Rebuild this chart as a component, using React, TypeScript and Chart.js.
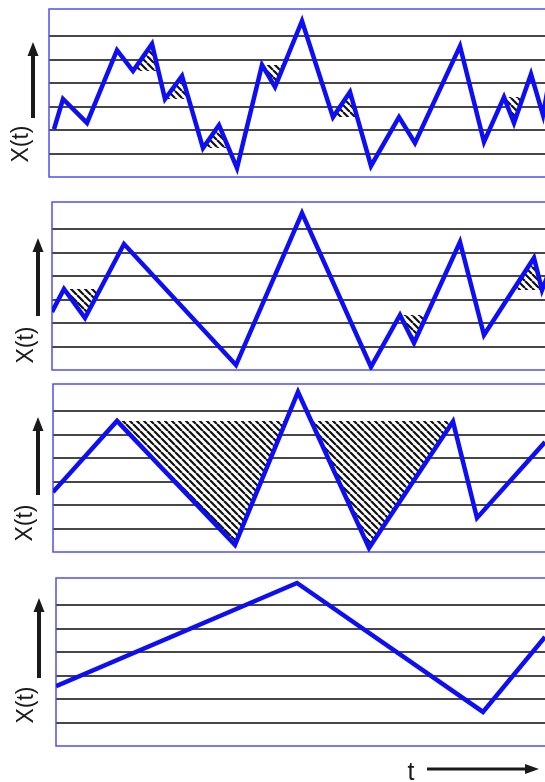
import React, { useEffect, useRef } from "react";
import { Chart, registerables } from "chart.js";

Chart.register(...registerables);

// ---------- data (time t, level X(t)) ----------
const TIME_P1 = [54, 63, 87, 117, 133, 152, 165, 182, 203, 219, 237, 262, 275, 302, 333, 350, 371, 399, 415, 460, 484, 504, 514, 531, 543, 553];
const VALUE_P1 = [2.04, 3.32, 2.3, 5.4, 4.51, 5.66, 3.32, 4.3, 1.23, 2.21, 0.38, 4.77, 3.83, 6.64, 2.55, 3.62, 0.47, 2.55, 1.45, 5.57, 1.49, 3.4, 2.3, 4.38, 2.64, 5.0];
// [t left, t apex, t right, cut level, apex value]
const HATCH_P1 = [
  [133, 152, 158, 4.51, 5.66],
  [165, 182, 189, 3.32, 4.3],
  [203, 219, 229, 1.23, 2.21],
  [262, 275, 284, 4.77, 3.83],
  [333, 350, 357, 2.55, 3.62],
  [504, 514, 523, 3.4, 2.3],
];

const TIME_P2 = [52, 64, 85, 124, 236, 302, 371, 400, 414, 460, 484, 534, 542, 553];
const VALUE_P2 = [2.47, 3.45, 2.21, 5.36, 0.21, 6.68, 0.13, 2.34, 1.15, 5.45, 1.49, 4.77, 3.4, 4.6];
const HATCH_P2 = [
  [64, 85, 100, 3.45, 2.21],
  [400, 414, 427, 2.34, 1.15],
  [513, 534, 542, 3.4, 4.77],
];

const TIME_P3 = [53, 117, 235, 298, 369, 453, 477, 545];
const VALUE_P3 = [2.55, 5.58, 0.3, 6.81, 0.17, 5.55, 1.45, 4.68];
const HATCH_P3 = [
  [117, 235, 286, 5.58, 0.3],
  [311, 369, 453, 5.58, 0.17],
];

const TIME_P4 = [56, 297, 483, 545];
const VALUE_P4 = [2.55, 6.94, 1.45, 4.64];
const HATCH_P4: number[][] = [];

const GRID_LEVELS = [1, 2, 3, 4, 5, 6];
const Y_MIN = 0;
const Y_MAX = 7.15;
const Y_LABEL = "X(t)";
const T_LABEL = "t";

// ---------- styles ----------
const LINE_BLUE = "rgb(14,14,245)";
const FRAME_BLUE = "rgb(80,80,235)";
const GRID_COLOR = "#474747";
const INK = "#1a1a1a";
const FONT = '"Liberation Sans", Arial, Helvetica, sans-serif';
const WIDTH = 545;

type PanelCfg = {
  time: number[];
  values: number[];
  hatches: number[][];
  top: number;
  height: number;
  left: number;
  padTop: number;
  padBottom: number;
  arrowX: number;
  tipY: number;
  tailY: number;
  textX: number;
  textY: number;
  tAxis?: boolean;
};

const PANELS: PanelCfg[] = [
  { time: TIME_P1, values: VALUE_P1, hatches: HATCH_P1, top: 0, height: 190, left: 49, padTop: 9, padBottom: 13, arrowX: 33, tipY: 42, tailY: 118, textX: 22, textY: 144 },
  { time: TIME_P2, values: VALUE_P2, hatches: HATCH_P2, top: 190, height: 185, left: 52, padTop: 12, padBottom: 5, arrowX: 38, tipY: 48, tailY: 126, textX: 27, textY: 155 },
  { time: TIME_P3, values: VALUE_P3, hatches: HATCH_P3, top: 375, height: 190, left: 53, padTop: 9, padBottom: 13, arrowX: 38, tipY: 42, tailY: 120, textX: 26, textY: 148 },
  { time: TIME_P4, values: VALUE_P4, hatches: HATCH_P4, top: 565, height: 217, left: 56, padTop: 13, padBottom: 36, arrowX: 39, tipY: 33, tailY: 113, textX: 27, textY: 140, tAxis: true },
];

function makeHatch(): CanvasPattern | string {
  const s = 7;
  const c = document.createElement("canvas");
  c.width = s;
  c.height = s;
  const g = c.getContext("2d");
  if (!g) return "#555";
  g.fillStyle = "#ffffff";
  g.fillRect(0, 0, s, s);
  g.strokeStyle = "#111";
  g.lineWidth = 2.2;
  g.beginPath();
  for (const o of [-s, 0, s]) {
    g.moveTo(o, 0);
    g.lineTo(o + s, s);
  }
  g.stroke();
  return g.createPattern(c, "repeat") || "#555";
}

function Panel({ cfg }: { cfg: PanelCfg }) {
  const ref = useRef<HTMLCanvasElement | null>(null);
  useEffect(() => {
    if (!ref.current) return;
    const hatch = makeHatch();
    const datasets: any[] = [
      {
        data: cfg.time.map((t, i) => ({ x: t, y: cfg.values[i] })),
        borderColor: LINE_BLUE,
        borderWidth: 4.5,
        borderJoinStyle: "miter",
        borderCapStyle: "butt",
        pointRadius: 0,
        tension: 0,
        fill: false,
        order: 0,
      },
      ...cfg.hatches.map(([l, a, r, level, av]) => ({
        data: [
          { x: l, y: level },
          { x: a, y: av },
          { x: r, y: level },
        ],
        borderColor: "rgba(0,0,0,0)",
        borderWidth: 1,
        pointRadius: 0,
        tension: 0,
        backgroundColor: hatch,
        fill: { value: level },
        order: 1,
      })),
    ];

    const decor = {
      id: "decor",
      beforeDatasetsDraw(chart: any) {
        const { ctx, chartArea } = chart;
        ctx.save();
        ctx.strokeStyle = FRAME_BLUE;
        ctx.lineWidth = 1.5;
        ctx.beginPath();
        ctx.moveTo(WIDTH + 2, chartArea.top);
        ctx.lineTo(chartArea.left, chartArea.top);
        ctx.lineTo(chartArea.left, chartArea.bottom);
        ctx.lineTo(WIDTH + 2, chartArea.bottom);
        ctx.stroke();
        ctx.restore();
      },
      afterDraw(chart: any) {
        const ctx = chart.ctx;
        ctx.save();
        ctx.fillStyle = INK;
        ctx.strokeStyle = INK;
        ctx.lineWidth = 4;
        ctx.beginPath();
        ctx.moveTo(cfg.arrowX, cfg.tailY);
        ctx.lineTo(cfg.arrowX, cfg.tipY + 10);
        ctx.stroke();
        ctx.beginPath();
        ctx.moveTo(cfg.arrowX, cfg.tipY);
        ctx.lineTo(cfg.arrowX - 5.5, cfg.tipY + 14);
        ctx.lineTo(cfg.arrowX + 5.5, cfg.tipY + 14);
        ctx.closePath();
        ctx.fill();
        ctx.save();
        ctx.translate(cfg.textX, cfg.textY);
        ctx.rotate(-Math.PI / 2);
        ctx.font = `23px ${FONT}`;
        ctx.textAlign = "center";
        ctx.textBaseline = "middle";
        ctx.fillText(Y_LABEL, 0, 0);
        ctx.restore();
        if (cfg.tAxis) {
          ctx.font = `25px ${FONT}`;
          ctx.textAlign = "center";
          ctx.textBaseline = "alphabetic";
          ctx.fillText(T_LABEL, 411, 215);
          ctx.lineWidth = 3;
          ctx.beginPath();
          ctx.moveTo(427, 204);
          ctx.lineTo(528, 204);
          ctx.stroke();
          ctx.beginPath();
          ctx.moveTo(539, 204);
          ctx.lineTo(525, 199);
          ctx.lineTo(525, 209);
          ctx.closePath();
          ctx.fill();
        }
        ctx.restore();
      },
    };

    const chart = new Chart(ref.current, {
      type: "line",
      data: { datasets },
      options: {
        responsive: false,
        animation: false,
        events: [],
        layout: { padding: { left: cfg.left, top: cfg.padTop, bottom: cfg.padBottom, right: 0 } },
        plugins: { legend: { display: false }, tooltip: { enabled: false } },
        scales: {
          x: {
            type: "linear",
            min: cfg.left,
            max: WIDTH,
            ticks: { display: false },
            grid: { display: false, drawTicks: false },
            border: { display: false },
          },
          y: {
            type: "linear",
            min: Y_MIN,
            max: Y_MAX,
            ticks: { display: false },
            grid: { color: GRID_COLOR, lineWidth: 2, drawTicks: false },
            border: { display: false },
            afterBuildTicks: (axis: any) => {
              axis.ticks = GRID_LEVELS.map((v) => ({ value: v }));
            },
          },
        },
      } as any,
      plugins: [decor],
    });
    return () => chart.destroy();
  }, [cfg]);
  return (
    <canvas
      ref={ref}
      width={WIDTH}
      height={cfg.height}
      style={{ position: "absolute", left: 0, top: cfg.top, display: "block" }}
    />
  );
}

export default function App() {
  return (
    <div style={{ position: "absolute", left: 0, top: 0, width: WIDTH, height: 782, background: "#fff", overflow: "hidden" }}>
      {PANELS.map((p, i) => (
        <Panel key={i} cfg={p} />
      ))}
    </div>
  );
}
